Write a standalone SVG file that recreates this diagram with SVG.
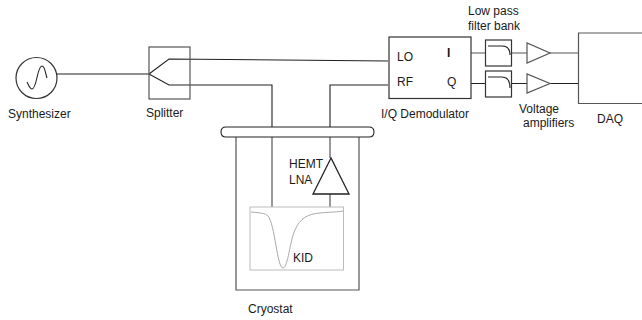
<svg xmlns="http://www.w3.org/2000/svg" width="642" height="320" viewBox="0 0 642 320">
<style>
text{font-family:"Liberation Sans",Arial,sans-serif;font-size:12px;fill:#1a1a1a}
.s{fill:none;stroke:#222;stroke-width:1.1}
.b{fill:#fff;stroke:#333;stroke-width:1.2}
.g{fill:none;stroke:#555;stroke-width:1.2}
</style>
<rect width="642" height="320" fill="#fff"/>
<g id="connectors">
<path class="s" d="M57 74H149"/>
<path class="s" d="M149 74L169 59L388 61"/>
<path class="s" d="M149 74L169 85H272V127"/>
<path class="s" d="M388 85H330V127"/>
<path class="g" d="M272 137V207"/>
<path class="g" d="M330 137V158"/>
<path class="g" d="M330 194V207"/>
<path class="g" d="M471 53H485M512 53H527M550 53H579" stroke-width="1.5"/>
<path class="s" d="M471 83.500H485M512 83.500H527M550 83.500H579"/>
</g>
<g id="synthesizer">
<circle class="b" cx="36.500" cy="78" r="20.500"/>
<path class="s" d="M27 82C29 86 30 89 32 89C37 89 37 66 42 66C45 66 45 72 47 78"/>
<text x="8" y="118">Synthesizer</text>
</g>
<g id="splitter">
<rect class="g" x="149" y="47" width="41" height="52"/>
<text x="146" y="117">Splitter</text>
</g>
<g id="demodulator">
<rect class="b" x="389" y="37" width="82" height="61.500"/>
<text x="397" y="61">LO</text>
<text x="397" y="86">RF</text>
<text x="447" y="57" font-weight="bold">I</text>
<text x="447" y="86">Q</text>
<text x="381" y="118">I/Q Demodulator</text>
</g>
<g id="filter-i">
<rect class="b" x="485.500" y="40" width="26" height="26"/>
<path class="s" d="M488 46H502Q510 46 510 55"/>
</g>
<g id="filter-q">
<rect class="b" x="485.500" y="71" width="26" height="26"/>
<path class="s" d="M488 77H502Q510 77 510 88"/>
</g>
<text id="filter-label" x="468" y="15"><tspan x="468">Low pass</tspan><tspan x="468" dy="15">filter bank</tspan></text>
<g id="amp-i"><path class="g" d="M527 43V63L550 53Z" style="fill:#fff"/></g>
<g id="amp-q"><path class="g" d="M527 74V93L550 83.500Z" style="fill:#fff"/></g>
<text id="amp-label" x="519" y="113"><tspan x="519">Voltage</tspan><tspan x="523" dy="14">amplifiers</tspan></text>
<g id="daq">
<path class="g" d="M642 33H578.500V103.500H642"/>
<text x="597" y="123">DAQ</text>
</g>
<g id="cryostat">
<path class="g" d="M236 137V290H359V137"/>
<path class="s" stroke-width="1.3" d="M226 127H369Q374 127 374 132Q374 137 369 137H226Q221 137 221 132Q221 127 226 127Z"/>
<text x="248" y="313">Cryostat</text>
</g>
<g id="hemt">
<path class="s" d="M331 158L313 194H349Z" style="stroke-width:1.3"/>
<text x="289" y="168">HEMT</text>
<text x="289" y="184">LNA</text>
</g>
<g id="kid">
<rect x="250" y="207" width="93.500" height="63" fill="#fff" stroke="#bbb" stroke-width="1"/>
<path fill="none" stroke="#aaa" stroke-width="1" d="M251 212C260 213 265 213 268 216C275 224 277 268 283 268C288 268 290 240 295 230C300 218 308 214 320 213C330 212 338 212 343 211"/>
<text x="293" y="262">KID</text>
</g>
</svg>
